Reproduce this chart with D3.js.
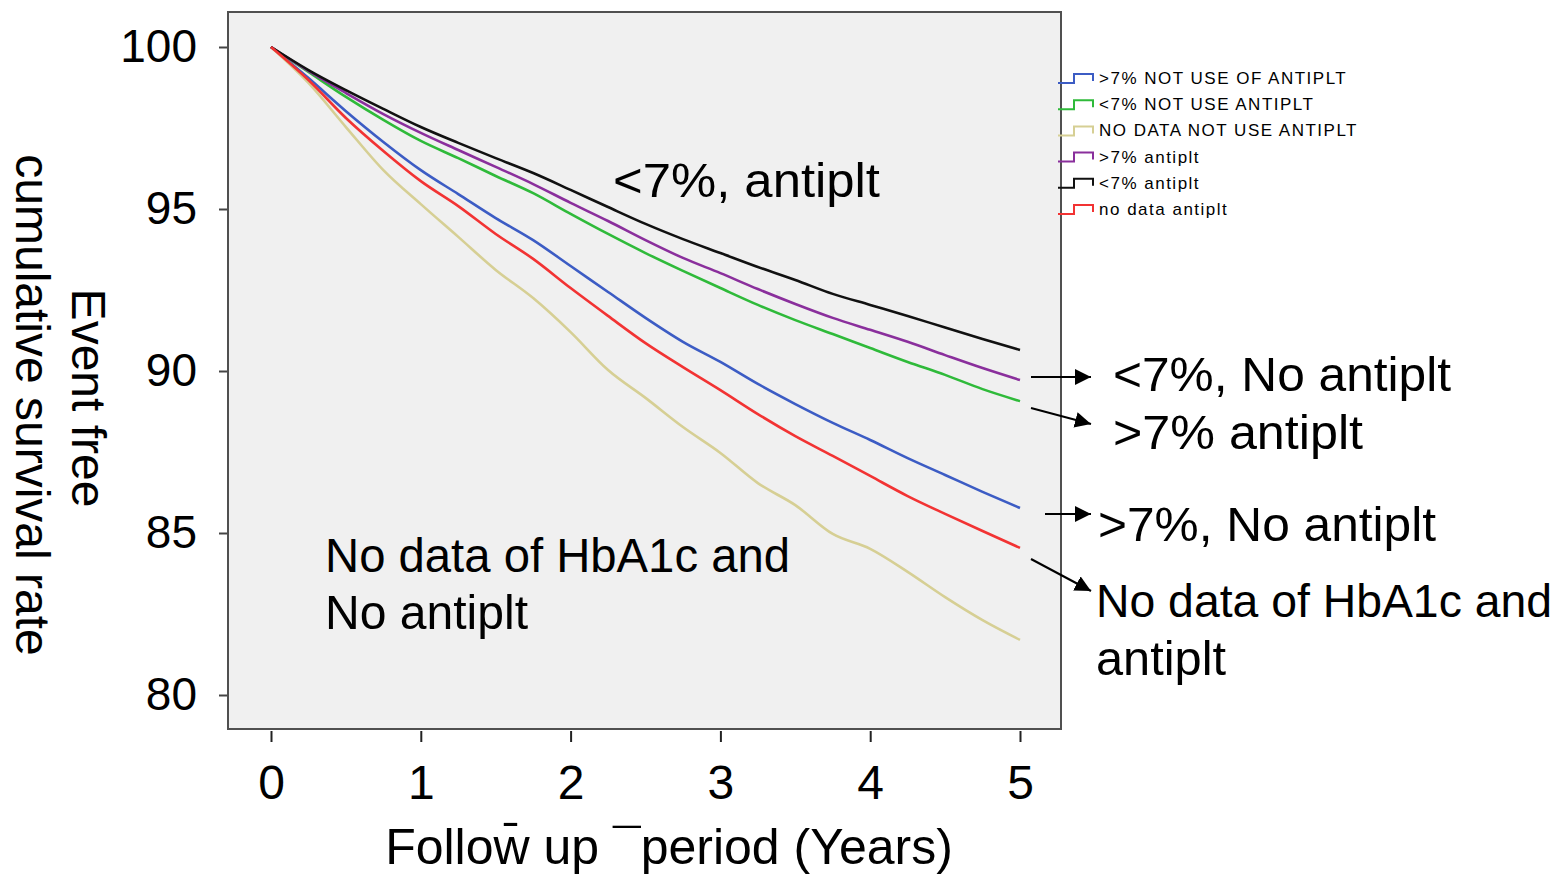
<!DOCTYPE html>
<html>
<head>
<meta charset="utf-8">
<script src="https://cdn.jsdelivr.net/npm/d3@7"></script>
<style>
body { margin: 0; background: #fff; }
svg text { font-family: Tahoma, "Liberation Sans", Arial, sans-serif; fill: #000; }
</style>
</head>
<body>
<svg width="1566" height="874"></svg>
<script>
// follow-up time (years) and event free survival (%) per group
var years = [0, 0.25, 0.5, 0.75, 1, 1.25, 1.5, 1.75, 2, 2.25, 2.5, 2.75, 3, 3.25, 3.5, 3.75, 4, 4.25, 4.5, 4.75, 5];

var gt7NoAntiplt     = [100, 99.04, 98.02, 97.07, 96.20, 95.46, 94.72, 94.04, 93.24, 92.44, 91.64, 90.90, 90.28, 89.60, 88.98, 88.40, 87.87, 87.31, 86.79, 86.27, 85.77];
var lt7NoAntiplt     = [100, 99.23, 98.46, 97.75, 97.10, 96.57, 96.02, 95.49, 94.85, 94.23, 93.64, 93.09, 92.56, 92.04, 91.57, 91.14, 90.71, 90.28, 89.88, 89.44, 89.07];
var noDataNoAntiplt  = [100, 98.89, 97.53, 96.20, 95.15, 94.14, 93.12, 92.25, 91.20, 90.03, 89.17, 88.27, 87.47, 86.54, 85.86, 84.97, 84.51, 83.80, 83.02, 82.31, 81.70];
var gt7Antiplt       = [100, 99.26, 98.58, 97.93, 97.35, 96.82, 96.30, 95.77, 95.19, 94.63, 94.04, 93.49, 93.02, 92.53, 92.07, 91.64, 91.27, 90.90, 90.49, 90.09, 89.72];
var lt7Antiplt       = [100, 99.29, 98.67, 98.09, 97.53, 97.04, 96.57, 96.11, 95.59, 95.06, 94.54, 94.07, 93.64, 93.21, 92.81, 92.38, 92.04, 91.70, 91.34, 90.99, 90.65];
var noDataAntiplt    = [100, 98.98, 97.81, 96.79, 95.86, 95.09, 94.23, 93.46, 92.56, 91.70, 90.86, 90.12, 89.41, 88.67, 87.99, 87.38, 86.76, 86.14, 85.59, 85.06, 84.54];

var groupNames = [">7% NOT USE OF ANTIPLT", "<7% NOT USE ANTIPLT", "NO DATA NOT USE ANTIPLT", ">7% antiplt", "<7% antiplt", "no data antiplt"];
var groupValues = [gt7NoAntiplt, lt7NoAntiplt, noDataNoAntiplt, gt7Antiplt, lt7Antiplt, noDataAntiplt];
var groupColors = ["#3c5cc4", "#2fba3a", "#d6cf94", "#8a2f9c", "#111111", "#f23333"];

var xTicks = [0, 1, 2, 3, 4, 5];
var yTicks = [80, 85, 90, 95, 100];

var svg = d3.select("svg");

// plot frame
var box = { left: 228, top: 12, right: 1061, bottom: 729 };

var x = d3.scaleLinear().domain([0, 5]).range([271, 1020]);
var y = d3.scaleLinear().domain([80, 100]).range([695, 47]);

svg.append("rect")
    .attr("x", box.left)
    .attr("y", box.top)
    .attr("width", box.right - box.left)
    .attr("height", box.bottom - box.top)
    .attr("fill", "#f0f0f0")
    .attr("stroke", "#505050")
    .attr("stroke-width", 2);

// axes
var xAxis = svg.append("g")
    .attr("transform", "translate(0," + (box.bottom + 2) + ")")
    .call(d3.axisBottom(x).tickValues(xTicks).tickSize(11).tickPadding(23).tickFormat(d3.format("d")));
xAxis.select(".domain").remove();
xAxis.selectAll("line").attr("stroke", "#222").attr("stroke-width", 2);
xAxis.selectAll("text").style("font-size", "48px").attr("fill", "#000");

var yAxis = svg.append("g")
    .attr("transform", "translate(" + (box.left - 1) + ",0)")
    .call(d3.axisLeft(y).tickValues(yTicks).tickSize(8).tickPadding(22).tickFormat(d3.format("d")));
yAxis.select(".domain").remove();
yAxis.selectAll("line").attr("stroke", "#444").attr("stroke-width", 2);
yAxis.selectAll("text").style("font-size", "46px").attr("fill", "#000");

// axis titles
svg.append("text")
    .attr("x", 669)
    .attr("y", 864)
    .attr("text-anchor", "middle")
    .style("font-size", "50px")
    .text("Follow\u0304 up \u00AFperiod (Years)");

svg.append("text")
    .attr("transform", "translate(72,398) rotate(90)")
    .attr("text-anchor", "middle")
    .style("font-size", "48px")
    .text("Event free");

svg.append("text")
    .attr("transform", "translate(16,405) rotate(90)")
    .attr("text-anchor", "middle")
    .style("font-size", "48px")
    .text("cumulative survival rate");

// survival curves
var line = d3.line()
    .curve(d3.curveMonotoneX)
    .x(function(d) { return x(d[0]); })
    .y(function(d) { return y(d[1]); });

svg.append("g").selectAll("path")
    .data(groupValues)
    .enter()
    .append("path")
    .attr("d", function(vals) { return line(years.map(function(t, i) { return [t, vals[i]]; })); })
    .attr("fill", "none")
    .attr("stroke", function(d, i) { return groupColors[i]; })
    .attr("stroke-width", 2.6)
    .attr("stroke-linejoin", "round");

// legend with step symbols
var legend = svg.append("g").selectAll("g")
    .data(groupNames)
    .enter()
    .append("g")
    .attr("transform", function(d, i) { return "translate(0," + (78 + i * 26.2) + ")"; });

legend.append("path")
    .attr("d", "M1058,5H1074V-4H1093V3")
    .attr("fill", "none")
    .attr("stroke", function(d, i) { return groupColors[i]; })
    .attr("stroke-width", 2);

legend.append("text")
    .attr("x", 1099)
    .attr("y", 6)
    .style("font-size", "17px")
    .style("letter-spacing", "1.5px")
    .attr("fill", "#111")
    .text(function(d) { return d; });

// annotations (w = drawn width, s = font size)
var notes = [
    { text: "<7%, antiplt", x: 613, y: 197, w: 267, s: 48 },
    { text: "<7%, No antiplt", x: 1113, y: 391, w: 338, s: 48 },
    { text: ">7% antiplt", x: 1113, y: 449, w: 250, s: 48 },
    { text: ">7%, No antiplt", x: 1098, y: 541, w: 338, s: 48 },
    { text: "No data of HbA1c and", x: 1096, y: 617, w: 456, s: 46 },
    { text: "antiplt", x: 1096, y: 675, w: 130, s: 48 },
    { text: "No data of HbA1c and", x: 325, y: 572, w: 465, s: 48 },
    { text: "No antiplt", x: 325, y: 629, w: 203, s: 48 }
];

svg.append("g").selectAll("text")
    .data(notes)
    .enter()
    .append("text")
    .attr("x", function(d) { return d.x; })
    .attr("y", function(d) { return d.y; })
    .attr("textLength", function(d) { return d.w; })
    .attr("lengthAdjust", "spacingAndGlyphs")
    .style("font-size", function(d) { return d.s + "px"; })
    .text(function(d) { return d.text; });

svg.append("defs").append("marker")
    .attr("id", "head")
    .attr("markerUnits", "userSpaceOnUse")
    .attr("markerWidth", 17)
    .attr("markerHeight", 16)
    .attr("refX", 16)
    .attr("refY", 8)
    .attr("orient", "auto")
    .append("path")
    .attr("d", "M0,0L16,8L0,16Z")
    .attr("fill", "#000");

var arrows = [
    [1031, 377, 1091, 377],
    [1031, 408, 1091, 424],
    [1045, 514, 1091, 514],
    [1031, 559, 1091, 591]
];

svg.append("g").selectAll("line")
    .data(arrows)
    .enter()
    .append("line")
    .attr("x1", function(d) { return d[0]; })
    .attr("y1", function(d) { return d[1]; })
    .attr("x2", function(d) { return d[2]; })
    .attr("y2", function(d) { return d[3]; })
    .attr("stroke", "#000")
    .attr("stroke-width", 2)
    .attr("marker-end", "url(#head)");
</script>
</body>
</html>
